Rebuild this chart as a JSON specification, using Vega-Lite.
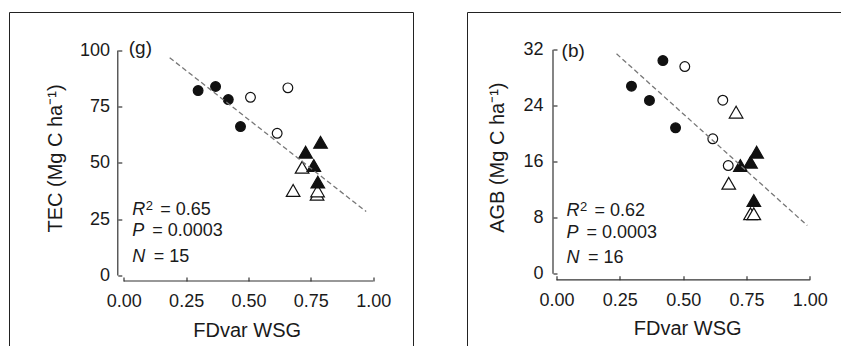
{
  "$schema": "https://vega.github.io/schema/vega-lite/v6.json",
  "padding": {"left": 8.5, "top": 11.5, "right": 0, "bottom": 0},
  "autosize": {"type": "pad"},
  "bounds": "flush",
  "spacing": 54,
  "background": "white",
  "datasets": {
    "tec": [
      {"x": 0.298, "y": 82.2, "group": "G1"},
      {"x": 0.368, "y": 84.0, "group": "G1"},
      {"x": 0.419, "y": 78.2, "group": "G1"},
      {"x": 0.468, "y": 66.2, "group": "G1"},
      {"x": 0.508, "y": 79.2, "group": "G2"},
      {"x": 0.658, "y": 83.4, "group": "G2"},
      {"x": 0.615, "y": 63.2, "group": "G2"},
      {"x": 0.715, "y": 48.1, "group": "G4"},
      {"x": 0.679, "y": 37.8, "group": "G4"},
      {"x": 0.775, "y": 36.1, "group": "G4"},
      {"x": 0.777, "y": 37.6, "group": "G4"},
      {"x": 0.729, "y": 54.8, "group": "G3"},
      {"x": 0.789, "y": 59.2, "group": "G3"},
      {"x": 0.762, "y": 48.9, "group": "G3"},
      {"x": 0.778, "y": 41.5, "group": "G3"}
    ],
    "tecfit": [{"x": 0.184, "y": 96.8}, {"x": 0.972, "y": 28.4}],
    "agb": [
      {"x": 0.420, "y": 30.47, "group": "G1"},
      {"x": 0.296, "y": 26.8, "group": "G1"},
      {"x": 0.367, "y": 24.76, "group": "G1"},
      {"x": 0.470, "y": 20.86, "group": "G1"},
      {"x": 0.5065, "y": 29.61, "group": "G2"},
      {"x": 0.6565, "y": 24.8, "group": "G2"},
      {"x": 0.617, "y": 19.29, "group": "G2"},
      {"x": 0.678, "y": 15.47, "group": "G2"},
      {"x": 0.709, "y": 23.09, "group": "G4"},
      {"x": 0.680, "y": 12.94, "group": "G4"},
      {"x": 0.766, "y": 8.57, "group": "G4"},
      {"x": 0.779, "y": 8.57, "group": "G4"},
      {"x": 0.726, "y": 15.47, "group": "G3"},
      {"x": 0.766, "y": 15.94, "group": "G3"},
      {"x": 0.790, "y": 17.37, "group": "G3"},
      {"x": 0.779, "y": 10.47, "group": "G3"}
    ],
    "agbfit": [{"x": 0.237, "y": 31.43}, {"x": 0.990, "y": 6.9}],
    "one": [{}]
  },
  "hconcat": [
    {
      "width": 404,
      "height": 334,
      "layer": [
        {
          "data": {"name": "tec"},
          "transform": [{"filter": "datum.group === 'G1' || datum.group === 'G2'"}],
          "mark": {"type": "point", "shape": "circle", "size": 95, "filled": true, "stroke": "#111", "strokeWidth": 1.2, "opacity": 1},
          "encoding": {
            "x": {"field": "x", "type": "quantitative",
              "scale": {"domain": [-0.4583, 1.1617], "nice": false, "zero": false},
              "axis": {"values": [0, 0.25, 0.5, 0.75, 1], "format": ".2f", "offset": -65.5, "title": "FDvar WSG",
                "titleX": 237.2, "titleY": 55.5, "titleBaseline": "alphabetic", "titleAlign": "center", "labelPadding": 15.5}},
            "y": {"field": "y", "type": "quantitative",
              "scale": {"domain": [-31.556, 116.889], "nice": false, "zero": false},
              "axis": {"values": [0, 25, 50, 75, 100], "format": "d", "offset": -108.3, "title": "TEC (Mg C ha⁻¹)",
                "titleX": -56.3, "titleY": 145.5, "titleAngle": -90, "titleBaseline": "alphabetic", "titleAlign": "center", "labelPadding": 12.3}},
            "fill": {"field": "group", "type": "nominal", "scale": {"domain": ["G1", "G2", "G3", "G4"], "range": ["#111", "white", "#111", "white"]}, "legend": null}
          }
        },
        {
          "data": {"name": "tec"},
          "transform": [{"filter": "datum.group === 'G3' || datum.group === 'G4'"}],
          "mark": {"type": "point", "shape": "triangle-up", "size": 185, "filled": true, "stroke": "#111", "strokeWidth": 1.2, "opacity": 1},
          "encoding": {
            "x": {"field": "x", "type": "quantitative"},
            "y": {"field": "y", "type": "quantitative"},
            "fill": {"field": "group", "type": "nominal", "scale": {"domain": ["G1", "G2", "G3", "G4"], "range": ["#111", "white", "#111", "white"]}, "legend": null}
          }
        },
        {
          "data": {"name": "tecfit"},
          "mark": {"type": "line", "color": "#777", "strokeWidth": 1.3, "strokeDash": [5, 3]},
          "encoding": {"x": {"field": "x", "type": "quantitative"}, "y": {"field": "y", "type": "quantitative"}}
        },
        {"data": {"name": "one"}, "mark": {"type": "rule", "color": "#333", "strokeWidth": 1.2},
          "encoding": {"x": {"datum": 0}, "x2": {"datum": 1}, "y": {"datum": -2.444}}},
        {"data": {"name": "one"}, "mark": {"type": "rule", "color": "#333", "strokeWidth": 1.2},
          "encoding": {"x": {"datum": -0.02406}, "y": {"datum": 0}, "y2": {"datum": 100}}},
        {"data": {"name": "one"}, "mark": {"type": "rule", "color": "#222", "strokeWidth": 1},
          "encoding": {"x": {"datum": -0.4583}, "y": {"datum": -31.556}, "y2": {"datum": 116.889}}},
        {"data": {"name": "one"}, "mark": {"type": "rule", "color": "#222", "strokeWidth": 1},
          "encoding": {"x": {"datum": 1.1617}, "y": {"datum": -31.556}, "y2": {"datum": 116.889}}},
        {"data": {"name": "one"}, "mark": {"type": "rule", "color": "#222", "strokeWidth": 1},
          "encoding": {"x": {"datum": -0.4583}, "x2": {"datum": 1.1617}, "y": {"datum": 116.889}}},
        {"data": {"name": "one"}, "mark": {"type": "text", "text": "(g)", "align": "left", "baseline": "middle", "fontSize": 19, "color": "#1a1a1a"},
          "encoding": {"x": {"datum": 0.02}, "y": {"datum": 101.1}}},
        {"data": {"name": "one"}, "mark": {"type": "text", "text": "R", "align": "left", "baseline": "alphabetic", "fontSize": 18, "fontStyle": "italic", "color": "#1a1a1a"},
          "encoding": {"x": {"datum": 0.034}, "y": {"datum": 26.67}}},
        {"data": {"name": "one"}, "mark": {"type": "text", "text": "2", "align": "left", "baseline": "alphabetic", "fontSize": 13, "dx": 13.5, "dy": -5, "color": "#1a1a1a"},
          "encoding": {"x": {"datum": 0.034}, "y": {"datum": 26.67}}},
        {"data": {"name": "one"}, "mark": {"type": "text", "text": "= 0.65", "align": "left", "baseline": "alphabetic", "fontSize": 18, "dx": 28, "color": "#1a1a1a"},
          "encoding": {"x": {"datum": 0.034}, "y": {"datum": 26.67}}},
        {"data": {"name": "one"}, "mark": {"type": "text", "text": "P", "align": "left", "baseline": "alphabetic", "fontSize": 18, "fontStyle": "italic", "color": "#1a1a1a"},
          "encoding": {"x": {"datum": 0.034}, "y": {"datum": 17.47}}},
        {"data": {"name": "one"}, "mark": {"type": "text", "text": "= 0.0003", "align": "left", "baseline": "alphabetic", "fontSize": 18, "dx": 20, "color": "#1a1a1a"},
          "encoding": {"x": {"datum": 0.034}, "y": {"datum": 17.47}}},
        {"data": {"name": "one"}, "mark": {"type": "text", "text": "N", "align": "left", "baseline": "alphabetic", "fontSize": 18, "fontStyle": "italic", "color": "#1a1a1a"},
          "encoding": {"x": {"datum": 0.034}, "y": {"datum": 6.22}}},
        {"data": {"name": "one"}, "mark": {"type": "text", "text": "= 15", "align": "left", "baseline": "alphabetic", "fontSize": 18, "dx": 21.5, "color": "#1a1a1a"},
          "encoding": {"x": {"datum": 0.034}, "y": {"datum": 6.22}}}
      ]
    },
    {
      "width": 374,
      "height": 334,
      "layer": [
        {
          "data": {"name": "agb"},
          "transform": [{"filter": "datum.group === 'G1' || datum.group === 'G2'"}],
          "mark": {"type": "point", "shape": "circle", "size": 95, "filled": true, "stroke": "#111", "strokeWidth": 1.2, "opacity": 1},
          "encoding": {
            "x": {"field": "x", "type": "quantitative",
              "scale": {"domain": [-0.35136, 1.12515], "nice": false, "zero": false},
              "axis": {"values": [0, 0.25, 0.5, 0.75, 1], "format": ".2f", "offset": -66.7, "title": "FDvar WSG",
                "titleX": 219.7, "titleY": 54.5, "titleBaseline": "alphabetic", "titleAlign": "center", "labelPadding": 15.5}},
            "y": {"field": "y", "type": "quantitative",
              "scale": {"domain": [-10.386, 37.329], "nice": false, "zero": false},
              "axis": {"values": [0, 8, 16, 24, 32], "format": "d", "offset": -85.5, "title": "AGB (Mg C ha⁻¹)",
                "titleX": -49.5, "titleY": 144.7, "titleAngle": -90, "titleBaseline": "alphabetic", "titleAlign": "center", "labelPadding": 14}},
            "fill": {"field": "group", "type": "nominal", "scale": {"domain": ["G1", "G2", "G3", "G4"], "range": ["#111", "white", "#111", "white"]}, "legend": null}
          }
        },
        {
          "data": {"name": "agb"},
          "transform": [{"filter": "datum.group === 'G3' || datum.group === 'G4'"}],
          "mark": {"type": "point", "shape": "triangle-up", "size": 185, "filled": true, "stroke": "#111", "strokeWidth": 1.2, "opacity": 1},
          "encoding": {
            "x": {"field": "x", "type": "quantitative"},
            "y": {"field": "y", "type": "quantitative"},
            "fill": {"field": "group", "type": "nominal", "scale": {"domain": ["G1", "G2", "G3", "G4"], "range": ["#111", "white", "#111", "white"]}, "legend": null}
          }
        },
        {
          "data": {"name": "agbfit"},
          "mark": {"type": "line", "color": "#777", "strokeWidth": 1.3, "strokeDash": [5, 3]},
          "encoding": {"x": {"field": "x", "type": "quantitative"}, "y": {"field": "y", "type": "quantitative"}}
        },
        {"data": {"name": "one"}, "mark": {"type": "rule", "color": "#333", "strokeWidth": 1.2},
          "encoding": {"x": {"datum": 0}, "x2": {"datum": 1}, "y": {"datum": -0.857}}},
        {"data": {"name": "one"}, "mark": {"type": "rule", "color": "#333", "strokeWidth": 1.2},
          "encoding": {"x": {"datum": -0.01382}, "y": {"datum": 0}, "y2": {"datum": 32}}},
        {"data": {"name": "one"}, "mark": {"type": "rule", "color": "#222", "strokeWidth": 1},
          "encoding": {"x": {"datum": -0.35136}, "y": {"datum": -10.386}, "y2": {"datum": 37.329}}},
        {"data": {"name": "one"}, "mark": {"type": "rule", "color": "#222", "strokeWidth": 1},
          "encoding": {"x": {"datum": -0.35136}, "x2": {"datum": 1.12515}, "y": {"datum": 37.329}}},
        {"data": {"name": "one"}, "mark": {"type": "text", "text": "(b)", "align": "left", "baseline": "middle", "fontSize": 19, "color": "#1a1a1a"},
          "encoding": {"x": {"datum": 0.02}, "y": {"datum": 31.9}}},
        {"data": {"name": "one"}, "mark": {"type": "text", "text": "R", "align": "left", "baseline": "alphabetic", "fontSize": 18, "fontStyle": "italic", "color": "#1a1a1a"},
          "encoding": {"x": {"datum": 0.0395}, "y": {"datum": 8.19}}},
        {"data": {"name": "one"}, "mark": {"type": "text", "text": "2", "align": "left", "baseline": "alphabetic", "fontSize": 13, "dx": 13.5, "dy": -5, "color": "#1a1a1a"},
          "encoding": {"x": {"datum": 0.0395}, "y": {"datum": 8.19}}},
        {"data": {"name": "one"}, "mark": {"type": "text", "text": "= 0.62", "align": "left", "baseline": "alphabetic", "fontSize": 18, "dx": 28, "color": "#1a1a1a"},
          "encoding": {"x": {"datum": 0.0395}, "y": {"datum": 8.19}}},
        {"data": {"name": "one"}, "mark": {"type": "text", "text": "P", "align": "left", "baseline": "alphabetic", "fontSize": 18, "fontStyle": "italic", "color": "#1a1a1a"},
          "encoding": {"x": {"datum": 0.0395}, "y": {"datum": 5.11}}},
        {"data": {"name": "one"}, "mark": {"type": "text", "text": "= 0.0003", "align": "left", "baseline": "alphabetic", "fontSize": 18, "dx": 20, "color": "#1a1a1a"},
          "encoding": {"x": {"datum": 0.0395}, "y": {"datum": 5.11}}},
        {"data": {"name": "one"}, "mark": {"type": "text", "text": "N", "align": "left", "baseline": "alphabetic", "fontSize": 18, "fontStyle": "italic", "color": "#1a1a1a"},
          "encoding": {"x": {"datum": 0.0395}, "y": {"datum": 1.61}}},
        {"data": {"name": "one"}, "mark": {"type": "text", "text": "= 16", "align": "left", "baseline": "alphabetic", "fontSize": 18, "dx": 21.5, "color": "#1a1a1a"},
          "encoding": {"x": {"datum": 0.0395}, "y": {"datum": 1.61}}}
      ]
    }
  ],
  "config": {
    "view": {"stroke": null},
    "font": "Liberation Sans",
    "axis": {
      "domain": false,
      "grid": false,
      "tickSize": -4,
      "tickColor": "#333",
      "tickWidth": 1.2,
      "labelFont": "Liberation Sans",
      "labelFontSize": 18,
      "labelColor": "#1a1a1a",
      "labelFlush": false,
      "labelOverlap": false,
      "titleFont": "Liberation Sans",
      "titleFontSize": 20,
      "titleFontWeight": "normal",
      "titleColor": "#1a1a1a"
    }
  }
}
